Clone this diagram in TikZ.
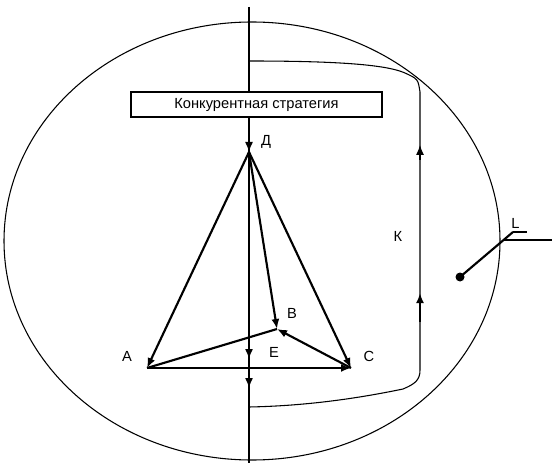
\documentclass[tikz,border=0pt]{standalone}
\usepackage{fontspec}
\setmainfont{Liberation Sans}
\usetikzlibrary{arrows.meta}

\tikzset{
  thinline/.style={line width=0.8pt},
  axisline/.style={line width=1.1pt},
  thickline/.style={line width=1.6pt},
  tip/.style={-{Latex[length=7.5pt,width=6pt]}},
  lbl/.style={font=\fontsize{11}{13}\selectfont, inner sep=0pt}
}

\begin{document}
\begin{tikzpicture}[x=0.75pt,y=-0.75pt]
    \useasboundingbox (0,0) rectangle (552,463);

    % Draw outer ellipse
    \draw[thinline] (252,241) ellipse [x radius=248, y radius=219];

    % Main axis
    \coordinate (top) at (249,7);
    \coordinate (bot) at (249,463);
    \draw[axisline] (top) -- (bot);

    % Strategy box
    \node[draw, thinline, fill=white, minimum width=251*0.75pt, minimum height=25*0.75pt,
          font=\fontsize{11}{13}\selectfont] (box) at (256.5,104.5) {Конкурентная стратегия};

    % Vertices
    \coordinate (D) at (249,152);
    \coordinate (A) at (147,368);
    \coordinate (B) at (277,329);
    \coordinate (C) at (351,368);

    % Arrows along the axis
    \draw[axisline, tip] (box.south -| D) -- (D);
    \foreach \y in {359,388} {
        \draw[axisline, tip] (249,\y-12) -- (249,\y);
    }

    % Draw triangle
    \draw[thickline, tip] (D) -- (A);
    \draw[thickline, tip] (D) -- (C);
    \draw[thickline, tip] (D) -- (B);
    \draw[thickline, tip] (C) -- (B);
    \draw[thickline] (A) -- (B);
    \draw[thickline, tip] (A) -- (C);

    % Labels
    \node[lbl] (lD) at (266,142) {Д};
    \node[lbl] (lA) at (127,356) {А};
    \node[lbl] (lB) at (292,313) {В};
    \node[lbl] (lC) at (369,356) {С};
    \node[lbl] (lE) at (274,352) {Е};

    % Feedback loop K
    \coordinate (k1) at (249,61);
    \coordinate (k2) at (420,92);
    \coordinate (k3) at (420,370);
    \coordinate (k4) at (249,407);
    \draw[thinline] (k1) .. controls (330,61) and (385,64) .. (405,73)
        .. controls (418,79) .. (k2) -- (k3)
        .. controls (420,380) and (415,384) .. (403,389)
        .. controls (350,400) and (300,406) .. (k4);
    \draw[thinline, tip] (420,160) -- (420,145);
    \draw[thickline, tip] (420,322) -- (420,293);
    \node[lbl] (lK) at (398,236) {К};

    % Point L
    \coordinate (P) at (460,277);
    \coordinate (Lend) at (513,232);
    \fill (P) circle (4.5);
    \draw[thickline] (P) -- (Lend);
    \draw[thinline] (Lend) -- (527,232);
    \node[lbl, anchor=south west] (lL) at (511,229) {L};
    \draw[thinline] (503,240) -- (552,240);
\end{tikzpicture}
\end{document}
